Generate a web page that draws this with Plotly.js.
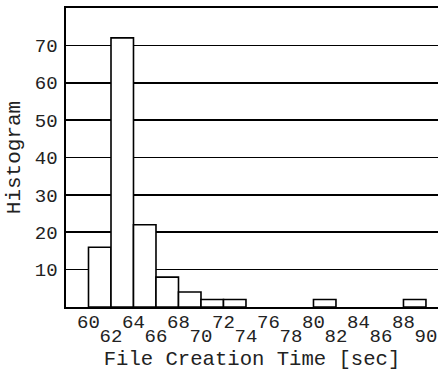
<!DOCTYPE html>
<html>
<head>
<meta charset="utf-8">
<script src="https://cdn.plot.ly/plotly-3.0.1.min.js"></script>
<style>html,body{margin:0;padding:0;background:#fff;}#chart{width:438px;height:377px;}</style>
</head>
<body>
<div id="chart"></div>
<script>
// Histogram data: lower bin edges (sec) and counts
var binStart = [60, 62, 64, 66, 68, 70, 72, 80, 88];
var binWidth = 2;
var counts = [16, 72, 22, 8, 4, 2, 2, 2, 2];
// tick labels
var tickRow1 = [60, 64, 68, 72, 76, 80, 84, 88];
var tickRow2 = [62, 66, 70, 74, 78, 82, 86, 90];
var yTicks = [10, 20, 30, 40, 50, 60, 70];

var FONT = "'Courier New', 'Liberation Mono', monospace";

var centers = binStart.map(function (s) { return s + binWidth / 2; });

var data = [
  {
    type: 'bar',
    x: centers,
    y: counts,
    width: binStart.map(function () { return binWidth; }),
    marker: { color: '#ffffff', line: { color: '#000000', width: 1.6 } },
    hoverinfo: 'none'
  },
  { type: 'scatter', x: [], y: [], xaxis: 'x2', yaxis: 'y', showlegend: false, hoverinfo: 'none' }
];

var layout = {
  width: 438, height: 377,
  margin: { l: 66, r: 0, t: 8, b: 70, pad: 0 },
  paper_bgcolor: '#ffffff', plot_bgcolor: '#ffffff',
  showlegend: false,
  font: { family: FONT, size: 19, color: '#111' },
  xaxis: {
    range: [58, 91.07],
    tickmode: 'array',
    tickvals: tickRow1,
    ticktext: tickRow1.map(String),
    ticks: '', showgrid: false, zeroline: false,
    showline: true, mirror: true, linecolor: '#000', linewidth: 1.6,
    tickfont: { family: FONT, size: 19, color: '#222' },
    ticklabelstandoff: -3,
    title: { text: 'File Creation Time [sec]', font: { family: FONT, size: 20.6, color: '#222' }, standoff: 17 }
  },
  xaxis2: {
    overlaying: 'x', matches: 'x', anchor: 'y', side: 'bottom',
    range: [58, 91.07],
    tickmode: 'array',
    tickvals: tickRow2,
    ticktext: tickRow2.map(String),
    ticks: '', showgrid: false, zeroline: false, showline: false,
    tickfont: { family: FONT, size: 19, color: '#222' },
    ticklabelstandoff: 15
  },
  yaxis: {
    range: [0, 80],
    tickmode: 'array',
    tickvals: yTicks,
    ticktext: yTicks.map(String),
    ticks: '', showgrid: true, gridcolor: '#000', gridwidth: 1.6,
    zeroline: false, showline: true, linecolor: '#000', linewidth: 1.6,
    tickfont: { family: FONT, size: 19, color: '#222' },
    ticklabelstandoff: 3,
    title: { text: 'Histogram', font: { family: FONT, size: 21, color: '#222' }, standoff: 8 }
  }
};

Plotly.newPlot('chart', data, layout, { staticPlot: true, displayModeBar: false });
</script>
</body>
</html>
